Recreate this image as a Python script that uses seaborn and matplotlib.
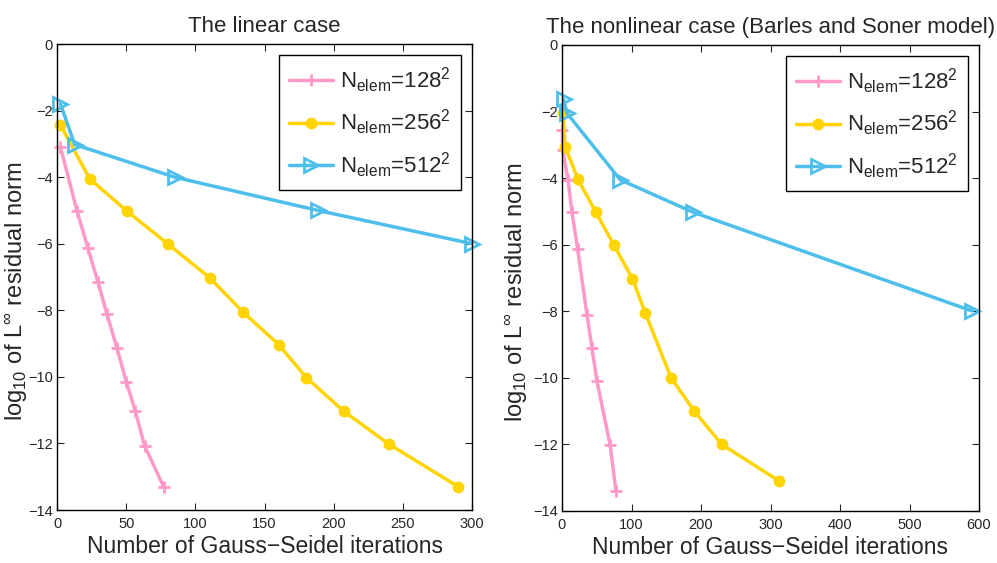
import numpy as np
import pandas as pd
import seaborn as sns
import matplotlib
matplotlib.use("Agg")
import matplotlib.pyplot as plt

# datos - caso lineal
lin_x_128 = [2.5, 14.5, 22.4, 29.6, 36.1, 43.4, 50.1, 56.6, 63.4, 77.1]
lin_y_128 = [-3.1, -5.02, -6.14, -7.15, -8.11, -9.14, -10.15, -11.03, -12.08, -13.3]
lin_x_256 = [2.5, 23.6, 50.6, 80.5, 110.3, 134.4, 160.2, 180.2, 207.2, 239.9, 290]
lin_y_256 = [-2.43, -4.05, -5.02, -6.02, -7.02, -8.05, -9.03, -10.02, -11.03, -12.02, -13.3]
lin_x_512 = [2.5, 12.8, 85, 188.6, 300]
lin_y_512 = [-1.8, -3.02, -4.0, -5.0, -6.0]

# caso no lineal (Barles y Soner)
nl_x_128 = [0.5, 1, 8.6, 14.4, 22.4, 35.9, 43.1, 50.3, 69.4, 77.6]
nl_y_128 = [-2.55, -3.15, -4.05, -5.03, -6.12, -8.1, -9.1, -10.1, -12.03, -13.4]
nl_x_256 = [1.4, 4.5, 22.9, 48.7, 75, 101.4, 119.6, 157, 190, 229.8, 312.6]
nl_y_256 = [-2.03, -3.05, -4.03, -5.02, -6.02, -7.02, -8.04, -10.0, -10.99, -12.0, -13.1]
nl_x_512 = [2.3, 7.2, 83.8, 188.2, 590]
nl_y_512 = [-1.63, -2.05, -4.05, -5.02, -7.99]

labels = [r'N$_{\mathrm{elem}}$=128$^2$', r'N$_{\mathrm{elem}}$=256$^2$', r'N$_{\mathrm{elem}}$=512$^2$']
colores = ['#ff99c8', '#ffd400', '#4dbfea']
titulos = ['The linear case', 'The nonlinear case (Barles and Soner model)']
xlims = [300, 600]
xticks = [np.arange(0, 301, 50), np.arange(0, 601, 100)]
yticks = np.arange(-14, 1, 2)

sns.set_style("ticks")
plt.rcParams['font.family'] = ['Liberation Sans', 'DejaVu Sans']
plt.rcParams['mathtext.fontset'] = 'custom'
plt.rcParams['mathtext.rm'] = 'Liberation Sans'
plt.rcParams['mathtext.it'] = 'Liberation Sans:italic'
plt.rcParams['axes.unicode_minus'] = True

fig = plt.figure(figsize=(9.97, 5.63), dpi=100)
ax1 = fig.add_axes([57/997, 1 - 510/563, 415/997, 466/563])
ax2 = fig.add_axes([562/997, 1 - 511/563, 417/997, 466/563])

casos = [
    (ax1, [(lin_x_128, lin_y_128), (lin_x_256, lin_y_256), (lin_x_512, lin_y_512)]),
    (ax2, [(nl_x_128, nl_y_128), (nl_x_256, nl_y_256), (nl_x_512, nl_y_512)]),
]
ylab_x = [-0.066, -0.076]

for i, (ax, series) in enumerate(casos):
    for j, (xs, ys) in enumerate(series):
        df = pd.DataFrame({'x': xs, 'y': ys})
        if j == 0:
            kw = dict(marker='+', markersize=9, markeredgewidth=2)
        elif j == 1:
            kw = dict(marker='o', markersize=7, markeredgewidth=1.5)
        else:
            kw = dict(marker='>', markersize=10, markeredgewidth=2,
                      markerfacecolor='none')
        sns.lineplot(data=df, x='x', y='y', ax=ax, sort=False, color=colores[j],
                     linewidth=2.5, label=labels[j], markeredgecolor=colores[j],
                     clip_on=False, **kw)
    ax.set_xlim(0, xlims[i])
    ax.set_ylim(-14, 0)
    ax.set_xticks(xticks[i])
    ax.set_yticks(yticks)
    ax.tick_params(direction='in', top=True, right=True, labelsize=10.5, length=5,
                   width=0.8, pad=5)
    ax.tick_params(axis='y', pad=3)
    for s in ax.spines.values():
        s.set_linewidth(1.0)
        s.set_color('black')
    ax.set_title(titulos[i], fontsize=16, pad=9)
    ax.set_xlabel('Number of Gauss\u2212Seidel iterations', fontsize=16.5, labelpad=3)
    ax.set_ylabel(r'log$_{10}$ of L$^{\infty}$ residual norm', fontsize=17)
    ax.yaxis.set_label_coords(ylab_x[i], 0.47)
    leg = ax.legend(loc='upper right', fontsize=16, frameon=True, fancybox=False,
                    edgecolor='black', framealpha=1, handlelength=2.0,
                    borderaxespad=0.5, labelspacing=0.6, handletextpad=0.3,
                    borderpad=0.45)
    leg.get_frame().set_linewidth(1.0)

fig.savefig('out.png', dpi=100)
